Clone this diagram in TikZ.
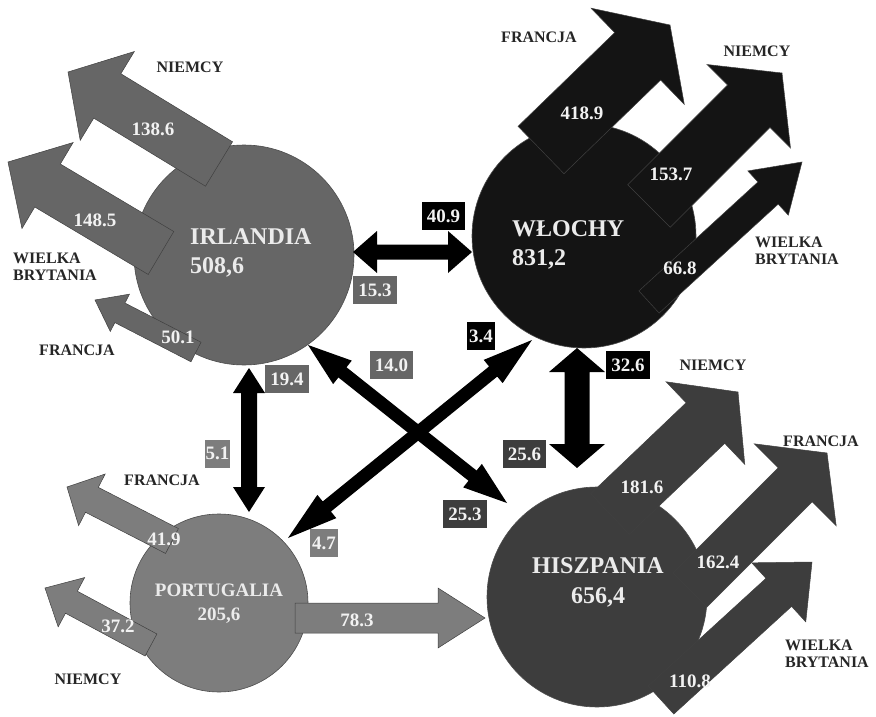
\documentclass[tikz,border=0pt]{standalone}
\usepackage{fontspec}
\setmainfont{Liberation Serif}
\usepackage{xcolor}
\usepackage{tikz}
\usetikzlibrary{calc,positioning}

\definecolor{irlgray}{gray}{0.40}
\definecolor{wlogray}{gray}{0.08}
\definecolor{porgray}{gray}{0.49}
\definecolor{hisgray}{gray}{0.24}

% block arrow: tail, tip, half width, head length, head half width, fill
\newcommand{\flowarrow}[6]{%
  \filldraw[fill=#6, draw=black!75, line width=0.5pt]
    ($(#1)!#3pt!90:(#2)$) -- ($(#2)!#4pt!(#1)!#3pt!-90:(#1)$) --
    ($(#2)!#4pt!(#1)!#5pt!-90:(#1)$) -- (#2) --
    ($(#2)!#4pt!(#1)!#5pt!90:(#1)$) -- ($(#2)!#4pt!(#1)!#3pt!90:(#1)$) --
    ($(#1)!#3pt!-90:(#2)$) -- cycle;}

% two-way arrow between two named points
\newcommand{\twowayarrow}[5]{%
  \fill[black] (#1) -- ($(#1)!#4pt!(#2)!#5pt!90:(#2)$) -- ($(#1)!#4pt!(#2)!#3pt!90:(#2)$) --
    ($(#2)!#4pt!(#1)!#3pt!-90:(#1)$) -- ($(#2)!#4pt!(#1)!#5pt!-90:(#1)$) -- (#2) --
    ($(#2)!#4pt!(#1)!#5pt!90:(#1)$) -- ($(#2)!#4pt!(#1)!#3pt!90:(#1)$) --
    ($(#1)!#4pt!(#2)!#3pt!-90:(#2)$) -- ($(#1)!#4pt!(#2)!#5pt!-90:(#2)$) -- cycle;}

\begin{document}
\begin{tikzpicture}[x=1pt,y=-1pt,
    hub/.style={circle, draw=black!70, line width=0.6pt, inner sep=0pt},
    hubname/.style={font=\fontsize{24}{29}\selectfont\bfseries, text=white!92!black, inner sep=0pt},
    country/.style={font=\fontsize{16}{17}\selectfont\bfseries, text=black!85, inner sep=0pt, align=left},
    flowval/.style={font=\fontsize{19}{20}\selectfont\bfseries, text=white!95!black, inner sep=0pt},
    valbox/.style={flowval, inner xsep=5pt, minimum height=28pt}]

    \fill[white] (0,0) rectangle (876,717);
    \useasboundingbox (0,0) rectangle (876,717);

    % countries
    \node[hub, fill=irlgray, minimum size=220pt] (irl) at (244,255) {};
    \node[hub, fill=wlogray, minimum size=224pt] (wlo) at (584,236) {};
    \node[hub, fill=porgray, minimum size=178pt] (por) at (219,603) {};
    \node[hub, fill=hisgray, minimum size=220pt] (his) at (597,597) {};

    % exports to the big three
    \flowarrow{219,164}{68,72}{26}{46}{52}{irlgray}
    \flowarrow{161,253}{8,162}{25}{46}{50}{irlgray}
    \flowarrow{196,352}{95,300}{11}{28}{21}{irlgray}
    \flowarrow{541,150}{670,25}{33}{45}{67}{wlogray}
    \flowarrow{649,206}{782,73}{30}{47}{59}{wlogray}
    \flowarrow{649,302}{802,162}{15}{46}{30}{wlogray}
    \flowarrow{610,514}{738,392}{28}{45}{57}{hisgray}
    \flowarrow{690,590}{827,453}{24}{45}{58}{hisgray}
    \flowarrow{661,700}{812,562}{19}{45}{40}{hisgray}
    \flowarrow{172,541}{67,487}{14}{28}{29}{porgray}
    \flowarrow{151,645}{45,588}{12.5}{30}{28}{porgray}
    \flowarrow{295,618}{485,618}{15}{47}{30}{porgray} % to Hiszpania

    \node[hubname, anchor=west, align=left] (irl-name) at (190,253) {IRLANDIA\\508,6};
    \node[hubname, anchor=west, align=left] (wlo-name) at (512,245) {WŁOCHY\\831,2};
    \node[hubname, align=center, font=\fontsize{24}{30}\selectfont\bfseries] (his-name) at (598,582) {HISZPANIA\\656,4};
    \node[hubname, align=center, font=\fontsize{19}{24}\selectfont\bfseries] (por-name) at (219,604) {PORTUGALIA\\205,6};

    \node[country] (irl-de) at (190,67) {NIEMCY};
    \node[country, anchor=west] (irl-gb) at (13,267) {WIELKA\\BRYTANIA};
    \node[country] (irl-fr) at (77,350) {FRANCJA};
    \node[country] (wlo-fr) at (539,37) {FRANCJA};
    \node[country] (wlo-de) at (757,51) {NIEMCY};
    \node[country, anchor=west] (wlo-gb) at (755,251) {WIELKA\\BRYTANIA};
    \node[country] (his-de) at (713,365) {NIEMCY};
    \node[country] (his-fr) at (821,441) {FRANCJA};
    \node[country, anchor=west] (his-gb) at (785,654) {WIELKA\\BRYTANIA};
    \node[country] (por-fr) at (162,480) {FRANCJA};
    \node[country] (por-de) at (88,679) {NIEMCY};

    \node[flowval] (v1) at (153,129) {138.6};
    \node[flowval] (v2) at (95,220) {148.5};
    \node[flowval] (v3) at (178,337) {50.1};
    \node[flowval] (v4) at (582,113) {418.9};
    \node[flowval] (v5) at (671,174) {153.7};
    \node[flowval] (v6) at (680,268) {66.8};
    \node[flowval] (v7) at (642,487) {181.6};
    \node[flowval] (v8) at (718,562) {162.4};
    \node[flowval] (v9) at (690,681) {110.8};
    \node[flowval] (v10) at (164,539) {41.9};
    \node[flowval] (v11) at (118,626) {37.2};
    \node[flowval] (v12) at (357,620) {78.3};

    % trade between the four
    \coordinate (irlE) at (353,252);  \coordinate (wloW) at (472,252);
    \coordinate (irlS) at (249,368);  \coordinate (porN) at (249,512);
    \coordinate (wloS) at (577,348);  \coordinate (hisN) at (577,468);
    \coordinate (irlSE) at (308,345); \coordinate (hisNW) at (507,503);
    \coordinate (porNE) at (288,538); \coordinate (wloSW) at (532,340);
    \twowayarrow{irlE}{wloW}{7.5}{24}{21}
    \twowayarrow{irlS}{porN}{8}{25}{16}
    \twowayarrow{wloS}{hisN}{12.5}{24}{28}
    \twowayarrow{irlSE}{hisNW}{6.5}{44}{15}
    \twowayarrow{porNE}{wloSW}{6.5}{50}{15}

    \node[valbox, fill=black] (b1) at (443.5,216) {40.9};
    \node[valbox, fill=irlgray] (b2) at (375,290) {15.3};
    \node[valbox, fill=irlgray] (b3) at (391.5,365) {14.0};
    \node[valbox, fill=black, inner xsep=2pt] (b4) at (481,336) {3.4};
    \node[valbox, fill=black] (b5) at (628,365) {32.6};
    \node[valbox, fill=irlgray] (b6) at (287,379) {19.4};
    \node[valbox, fill=porgray, inner xsep=1pt] (b7) at (217.5,453.5) {5.1};
    \node[valbox, fill=porgray, inner xsep=2pt] (b8) at (324,543) {4.7};
    \node[valbox, fill=hisgray] (b9) at (524.5,454) {25.6};
    \node[valbox, fill=hisgray] (b10) at (465,514) {25.3};
\end{tikzpicture}
\end{document}
